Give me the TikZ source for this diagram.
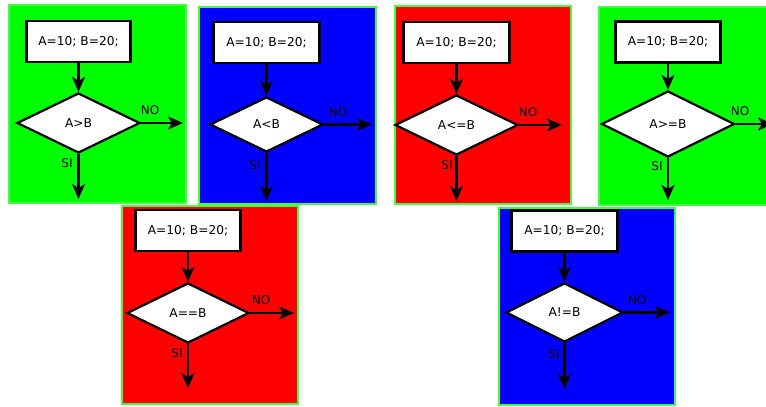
\documentclass[tikz,border=0pt]{standalone}
\usepackage{fontspec}
\setmainfont{DejaVu Sans}
\usetikzlibrary{shapes.geometric,arrows.meta}
\definecolor{panelgreen}{HTML}{00FF00}
\definecolor{panelblue}{HTML}{0000FF}
\definecolor{panelred}{HTML}{FF0000}
\definecolor{panelrim}{HTML}{40FF40}
\tikzset{
  panel/.style={draw=panelrim, line width=1.5pt},
  assign/.style={draw=black, fill=white, line width=2.2pt, rectangle, inner sep=0pt,
    minimum height=41pt, font=\fontsize{12.2}{14}\selectfont},
  test/.style={draw=black, fill=white, line width=2.2pt, diamond, inner sep=0pt,
    font=\fontsize{12.2}{14}\selectfont},
  flow/.style={draw=black, line width=2.2pt, -{Stealth[length=15pt,width=13pt,inset=4pt]}},
  branch/.style={font=\fontsize{12}{14}\selectfont, inner sep=0pt},
}
\begin{document}
\begin{tikzpicture}[x=1pt,y=-1pt]
\useasboundingbox (0,0) rectangle (766,407);
\clip (0,0) rectangle (766,407);

% panel backgrounds
\draw[panel, fill=panelgreen] (9,5) rectangle (186,203);
\draw[panel, fill=panelblue] (199,7) rectangle (376,204);
\draw[panel, fill=panelred] (395,6) rectangle (571,204);
\draw[panel, fill=panelgreen] (599,7) rectangle (772,205);
\draw[panel, fill=panelred] (122,206) rectangle (298,404);
\draw[panel, fill=panelblue] (499,208) rectangle (675,405);

% A > B
\node[assign, minimum width=104pt] (a1) at (78.5,41.5) {A=10; B=20;};
\node[test, minimum width=123pt, minimum height=60pt] (d1) at (78.5,123) {A>B};
\coordinate (n1) at (183,123);
\coordinate (s1) at (78.5,199);
\draw[flow] (a1.south) -- (d1.north);
\draw[flow] (d1.east) -- (n1);
\draw[flow] (d1.south) -- (s1);
\node[branch] (no1) at (150,110) {NO};
\node[branch] (si1) at (67,163) {SI};

% A < B
\node[assign, minimum width=106pt] (a2) at (266.5,42.5) {A=10; B=20;};
\node[test, minimum width=113pt, minimum height=55pt] (d2) at (266.5,124.5) {A<B};
\coordinate (n2) at (372,124.5);
\coordinate (s2) at (266.5,201);
\draw[flow] (a2.south) -- (d2.north);
\draw[flow] (d2.east) -- (n2);
\draw[flow] (d2.south) -- (s2);
\node[branch] (no2) at (338,112) {NO};
\node[branch] (si2) at (255,165) {SI};

% A <= B
\node[assign, minimum width=106pt] (a3) at (456.5,42.5) {A=10; B=20;};
\node[test, minimum width=123pt, minimum height=60pt] (d3) at (456.5,125) {A<=B};
\coordinate (n3) at (562,125);
\coordinate (s3) at (456.5,201);
\draw[flow] (a3.south) -- (d3.north);
\draw[flow] (d3.east) -- (n3);
\draw[flow] (d3.south) -- (s3);
\node[branch] (no3) at (528,112) {NO};
\node[branch] (si3) at (447,165) {SI};

% A >= B
\node[assign, minimum width=105pt] (a4) at (668,42) {A=10; B=20;};
\node[test, minimum width=133pt, minimum height=66pt] (d4) at (668,124) {A>=B};
\coordinate (n4) at (773,124);
\coordinate (s4) at (668,200);
\draw[flow] (a4.south) -- (d4.north);
\draw[flow] (d4.east) -- (n4);
\draw[flow] (d4.south) -- (s4);
\node[branch] (no4) at (740,111) {NO};
\node[branch] (si4) at (657,166) {SI};

% A == B
\node[assign, minimum width=105pt] (a5) at (188,230.5) {A=10; B=20;};
\node[test, minimum width=122pt, minimum height=60pt] (d5) at (188,313) {A==B};
\coordinate (n5) at (294,313);
\coordinate (s5) at (188,388);
\draw[flow] (a5.south) -- (d5.north);
\draw[flow] (d5.east) -- (n5);
\draw[flow] (d5.south) -- (s5);
\node[branch] (no5) at (261,300) {NO};
\node[branch] (si5) at (177,353) {SI};

% A != B
\node[assign, minimum width=106pt] (a6) at (564.5,231) {A=10; B=20;};
\node[test, minimum width=117pt, minimum height=59pt] (d6) at (564.5,312.5) {A!=B};
\coordinate (n6) at (670,312.5);
\coordinate (s6) at (564.5,389);
\draw[flow] (a6.south) -- (d6.north);
\draw[flow] (d6.east) -- (n6);
\draw[flow] (d6.south) -- (s6);
\node[branch] (no6) at (637,300) {NO};
\node[branch] (si6) at (554,354) {SI};
\end{tikzpicture}
\end{document}
